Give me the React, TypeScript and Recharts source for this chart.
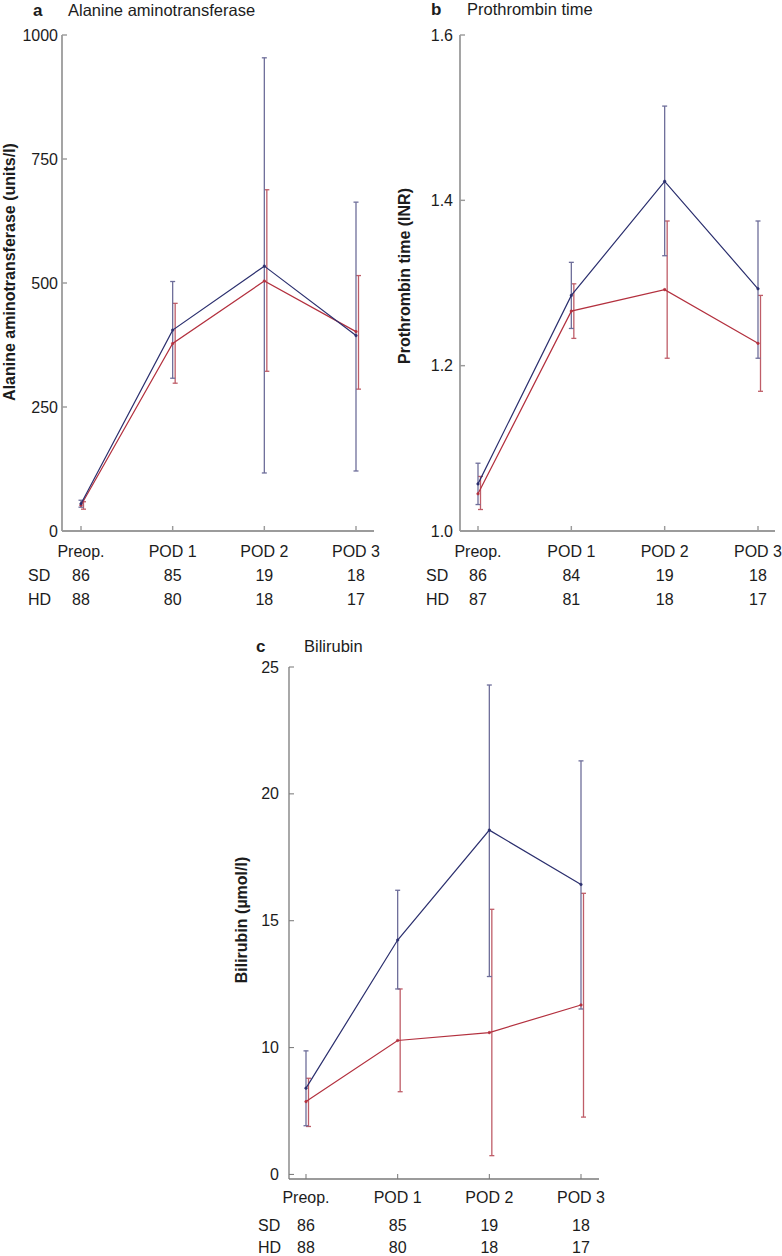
import React from 'react';
import { LineChart, Line, XAxis, YAxis, ErrorBar } from 'recharts';

const FONT = '"Liberation Sans", Arial, Helvetica, sans-serif';
const TEXT = '#1c1c1c';
const BLUE = '#2b2f6e';
const RED = '#b3303e';
const BLUE_ERR = '#6e6e9a';
const RED_ERR = '#bf5d68';

const categories = ['Preop.', 'POD 1', 'POD 2', 'POD 3'];

// Panel a: Alanine aminotransferase (units/l)
const altBlueMean = [55, 405, 534, 394];
const altBlueLow = [48, 308, 117, 121];
const altBlueHigh = [62, 503, 954, 663];
const altRedMean = [52, 378, 504, 402];
const altRedLow = [44, 298, 322, 286];
const altRedHigh = [59, 459, 688, 515];
const altCountSD = [86, 85, 19, 18];
const altCountHD = [88, 80, 18, 17];
const altTicks = [0, 250, 500, 750, 1000];

// Panel b: Prothrombin time (INR)
const inrBlueMean = [1.057, 1.285, 1.423, 1.293];
const inrBlueLow = [1.032, 1.245, 1.333, 1.209];
const inrBlueHigh = [1.082, 1.325, 1.514, 1.375];
const inrRedMean = [1.045, 1.266, 1.292, 1.227];
const inrRedLow = [1.026, 1.233, 1.209, 1.169];
const inrRedHigh = [1.066, 1.299, 1.375, 1.285];
const inrCountSD = [86, 84, 19, 18];
const inrCountHD = [87, 81, 18, 17];
const inrTicks = [1.0, 1.2, 1.4, 1.6];

// Panel c: Bilirubin (µmol/l) — lowest tick is printed as "0" in the figure
const bilBlueMean = [8.4, 14.24, 18.57, 16.43];
const bilBlueLow = [6.92, 12.31, 12.8, 11.52];
const bilBlueHigh = [9.87, 16.2, 24.29, 21.3];
const bilRedMean = [7.87, 10.28, 10.59, 11.68];
const bilRedLow = [6.89, 8.26, 5.74, 7.26];
const bilRedHigh = [8.79, 12.31, 15.45, 16.08];
const bilCountSD = [86, 85, 19, 18];
const bilCountHD = [88, 80, 18, 17];
const bilTicks = [5, 10, 15, 20, 25];
const bilTickLabels = ['0', '10', '15', '20', '25'];

function buildRows(bm: number[], bl: number[], bh: number[], rm: number[], rl: number[], rh: number[]) {
  return categories.map((label, i) => ({
    label,
    blue: bm[i],
    blueErr: [bm[i] - bl[i], bh[i] - bm[i]],
    red: rm[i],
    redErr: [rm[i] - rl[i], rh[i] - rm[i]],
  }));
}

type PanelProps = {
  left: number; top: number; width: number; height: number;
  marginTop: number; marginRight: number; yAxisWidth: number; xAxisHeight: number;
  padLeft: number; padRight: number;
  domain: [number, number]; ticks: number[]; fmt: (v: number) => string;
  rows: any[]; sd: number[]; hd: number[];
  axisColor: string; axisWidth: number; yGap: number;
  labelOff: number; sdOff: number; hdOff: number;
};

function Panel(p: PanelProps) {
  const axisY = p.height - p.xAxisHeight;
  const axisX = p.yAxisWidth;
  const XTick = (props: any) => {
    const x = props.x;
    const i = categories.indexOf(props.payload.value);
    return (
      <g>
        <line x1={x} x2={x} y1={axisY} y2={axisY - 5} stroke={p.axisColor} strokeWidth={p.axisWidth * 0.8} />
        <text x={x} y={axisY + p.labelOff} textAnchor="middle" dominantBaseline="central" fontFamily={FONT} fontSize={16} fill={TEXT}>{props.payload.value}</text>
        <text x={x} y={axisY + p.sdOff} textAnchor="middle" dominantBaseline="central" fontFamily={FONT} fontSize={16} fill={TEXT}>{p.sd[i]}</text>
        <text x={x} y={axisY + p.hdOff} textAnchor="middle" dominantBaseline="central" fontFamily={FONT} fontSize={16} fill={TEXT}>{p.hd[i]}</text>
      </g>
    );
  };
  const YTick = (props: any) => {
    const y = props.y;
    return (
      <g>
        <line x1={axisX} x2={axisX + 5} y1={y} y2={y} stroke={p.axisColor} strokeWidth={p.axisWidth * 0.8} />
        <text x={axisX - p.yGap} y={y} textAnchor="end" dominantBaseline="central" fontFamily={FONT} fontSize={16} fill={TEXT}>{p.fmt(props.payload.value)}</text>
      </g>
    );
  };
  return (
    <div style={{ position: 'absolute', left: p.left, top: p.top, width: p.width, height: p.height }}>
      <LineChart width={p.width} height={p.height} data={p.rows}
        margin={{ top: p.marginTop, right: p.marginRight, left: 0, bottom: 0 }}>
        <XAxis dataKey="label" type="category" height={p.xAxisHeight} interval={0}
          padding={{ left: p.padLeft, right: p.padRight }}
          axisLine={{ stroke: p.axisColor, strokeWidth: p.axisWidth }} tickLine={false} tick={XTick} />
        <XAxis xAxisId="shift" dataKey="label" type="category" hide
          padding={{ left: p.padLeft + 2.5, right: p.padRight - 2.5 }} />
        <YAxis type="number" width={p.yAxisWidth} domain={p.domain} ticks={p.ticks} interval={0}
          allowDataOverflow axisLine={{ stroke: p.axisColor, strokeWidth: p.axisWidth }} tickLine={false} tick={YTick} />
        <Line xAxisId="shift" dataKey="red" stroke="none" dot={false} activeDot={false} isAnimationActive={false}>
          <ErrorBar dataKey="redErr" width={2.5} stroke={RED_ERR} strokeWidth={1.3} direction="y" />
        </Line>
        <Line dataKey="blue" stroke="none" dot={false} activeDot={false} isAnimationActive={false}>
          <ErrorBar dataKey="blueErr" width={2.5} stroke={BLUE_ERR} strokeWidth={1.3} direction="y" />
        </Line>
        <Line dataKey="red" stroke={RED} strokeWidth={1.2} isAnimationActive={false}
          dot={{ r: 1.3, fill: RED, stroke: RED, strokeWidth: 0.5 }} activeDot={false} />
        <Line dataKey="blue" stroke={BLUE} strokeWidth={1.2} isAnimationActive={false}
          dot={{ r: 1.3, fill: BLUE, stroke: BLUE, strokeWidth: 0.5 }} activeDot={false} />
      </LineChart>
    </div>
  );
}

export default function App() {
  const altRows = buildRows(altBlueMean, altBlueLow, altBlueHigh, altRedMean, altRedLow, altRedHigh);
  const inrRows = buildRows(inrBlueMean, inrBlueLow, inrBlueHigh, inrRedMean, inrRedLow, inrRedHigh);
  const bilRows = buildRows(bilBlueMean, bilBlueLow, bilBlueHigh, bilRedMean, bilRedLow, bilRedHigh);
  const t = (x: number, y: number, s: string, opts: any = {}) => (
    <text x={x} y={y} fontFamily={FONT} fontSize={16} fill={TEXT} {...opts}>{s}</text>
  );
  return (
    <div style={{ position: 'absolute', left: 0, top: 0, width: 782, height: 1256, background: '#fff', overflow: 'hidden' }}>
      <Panel left={0} top={0} width={391} height={610} marginTop={35} marginRight={17}
        yAxisWidth={62} xAxisHeight={79} padLeft={19} padRight={18}
        domain={[0, 1000]} ticks={altTicks} fmt={(v) => String(v)}
        rows={altRows} sd={altCountSD} hd={altCountHD}
        axisColor="#9b9b9b" axisWidth={1.8} yGap={4}
        labelOff={20} sdOff={44.3} hdOff={68} />
      <Panel left={391} top={0} width={391} height={610} marginTop={35} marginRight={7}
        yAxisWidth={69} xAxisHeight={79} padLeft={18} padRight={17}
        domain={[1.0, 1.6]} ticks={inrTicks} fmt={(v) => v.toFixed(1)}
        rows={inrRows} sd={inrCountSD} hd={inrCountHD}
        axisColor="#9b9b9b" axisWidth={1.8} yGap={7}
        labelOff={20} sdOff={44.8} hdOff={68.3} />
      <Panel left={190} top={610} width={420} height={646} marginTop={57} marginRight={11}
        yAxisWidth={99} xAxisHeight={77} padLeft={17} padRight={18}
        domain={[4.82, 25]} ticks={bilTicks} fmt={(v) => bilTickLabels[bilTicks.indexOf(v)]}
        rows={bilRows} sd={bilCountSD} hd={bilCountHD}
        axisColor="#7a7a7a" axisWidth={1.3} yGap={10}
        labelOff={18.4} sdOff={46.2} hdOff={68.2} />
      <svg width={782} height={1256} style={{ position: 'absolute', left: 0, top: 0, pointerEvents: 'none' }}>
        {t(33, 16, 'a', { fontWeight: 'bold', fontSize: 17 })}
        {t(68, 16, 'Alanine aminotransferase', { fontSize: 16.5 })}
        {t(431, 15, 'b', { fontWeight: 'bold', fontSize: 17 })}
        {t(467, 15, 'Prothrombin time', { fontSize: 16.5 })}
        {t(256, 652, 'c', { fontWeight: 'bold', fontSize: 17 })}
        {t(304, 652, 'Bilirubin', { fontSize: 16.5 })}
        {t(28, 575.3, 'SD', { dominantBaseline: 'central' })}
        {t(28, 599, 'HD', { dominantBaseline: 'central' })}
        {t(426, 575.8, 'SD', { dominantBaseline: 'central' })}
        {t(426, 599.3, 'HD', { dominantBaseline: 'central' })}
        {t(258, 1225.5, 'SD', { dominantBaseline: 'central' })}
        {t(258, 1247.5, 'HD', { dominantBaseline: 'central' })}
        <text transform="translate(15,272) rotate(-90)" textAnchor="middle" fontFamily={FONT} fontSize={16} fontWeight="bold" fill={TEXT}>Alanine aminotransferase (units/l)</text>
        <text transform="translate(410,276) rotate(-90)" textAnchor="middle" fontFamily={FONT} fontSize={16} fontWeight="bold" fill={TEXT}>Prothrombin time (INR)</text>
        <text transform="translate(247,920) rotate(-90)" textAnchor="middle" fontFamily={FONT} fontSize={16} fontWeight="bold" fill={TEXT}>Bilirubin (µmol/l)</text>
      </svg>
    </div>
  );
}
